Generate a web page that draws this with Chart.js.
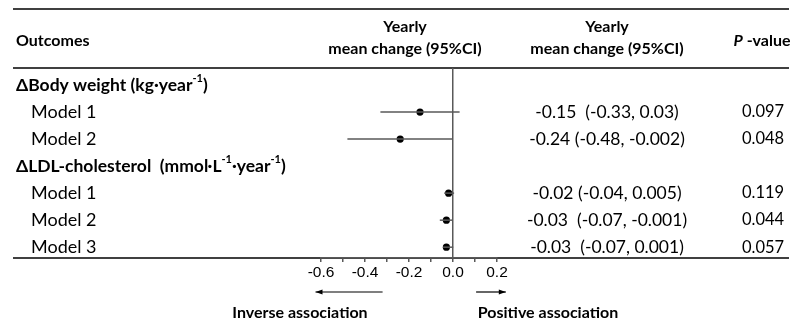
<!DOCTYPE html>
<html><head><meta charset="utf-8">
<script src="https://cdn.jsdelivr.net/npm/chart.js@4/dist/chart.umd.min.js"></script>
<style>html,body{margin:0;padding:0;background:#fff;}canvas{display:block;}</style>
</head><body>
<canvas id="c" width="790" height="324"></canvas>
<script>
// ---- data ----
const rowLabels = ['ΔBody weight (kg·year^-1^)', 'Model 1', 'Model 2', 'ΔLDL-cholesterol  (mmol·L^-1^·year^-1^)', 'Model 1', 'Model 2', 'Model 3'];
const rowIsHeader = [true, false, false, true, false, false, false];
const estimates = [null, -0.15, -0.24, null, -0.02, -0.03, -0.03];
const ciLow = [null, -0.33, -0.48, null, -0.04, -0.06, -0.045];
const ciHigh = [null, 0.03, -0.002, null, 0.005, -0.001, 0.001];
const ciText = ['', '-0.15  (-0.33, 0.03)', '-0.24 (-0.48, -0.002)', '', '-0.02 (-0.04, 0.005)', '-0.03  (-0.07, -0.001)', '-0.03  (-0.07, 0.001)'];
const pValues = ['', '0.097', '0.048', '', '0.119', '0.044', '0.057'];
const tickLabels = ['-0.6', '-0.4', '-0.2', '0.0', '0.2'];
const columnHeaders = ['Outcomes', 'Yearly', 'mean change (95%CI)', 'P', ' -value'];
const directionLabels = ['Inverse association', 'Positive association'];

const FONT = 'Lato, "Open Sans", sans-serif';
const LINE = '#595959';
const SZ_HEAD = 16, SZ_ROWB = 17.5, SZ_ROW = 18, SZ_VAL = 17.5, SZ_P = 16.5, SZ_DIR = 16;

function drawRich(ctx, label, x, y, size, weight, align) {
  const parts = label.split('^');
  const segs = parts.map((t, i) => ({ t, sup: i % 2 === 1 }));
  let total = 0;
  segs.forEach(s => {
    ctx.font = `${weight} ${s.sup ? Math.round(size * 0.6) : size}px ${FONT}`;
    s.w = ctx.measureText(s.t).width;
    total += s.w;
  });
  let cx = align === 'center' ? x - total / 2 : x;
  ctx.textAlign = 'left';
  ctx.textBaseline = 'middle';
  segs.forEach(s => {
    ctx.font = `${weight} ${s.sup ? Math.round(size * 0.6) : size}px ${FONT}`;
    ctx.fillText(s.t, cx, s.sup ? y - size * 0.4 : y);
    cx += s.w;
  });
}

const tablePlugin = {
  id: 'table',
  beforeDraw(chart) {
    const ctx = chart.ctx;
    ctx.save();
    ctx.fillStyle = '#fff';
    ctx.fillRect(0, 0, chart.width, chart.height);
    ctx.strokeStyle = '#000';
    ctx.lineWidth = 1.5;
    const ca = chart.chartArea;
    [9, ca.top, ca.bottom].forEach(y => {
      ctx.beginPath(); ctx.moveTo(13, y); ctx.lineTo(789, y); ctx.stroke();
    });
    ctx.restore();
  },
  afterDraw(chart) {
    const ctx = chart.ctx;
    const ys = chart.scales.y, xs = chart.scales.x;
    ctx.save();
    ctx.fillStyle = '#000';
    // header
    drawRich(ctx, columnHeaders[0], 16, 41, SZ_HEAD, 'bold', 'left');
    drawRich(ctx, columnHeaders[1], 405, 27, SZ_HEAD, 'bold', 'center');
    drawRich(ctx, columnHeaders[2], 405, 49, SZ_HEAD, 'bold', 'center');
    drawRich(ctx, columnHeaders[1], 607, 27, SZ_HEAD, 'bold', 'center');
    drawRich(ctx, columnHeaders[2], 607, 49, SZ_HEAD, 'bold', 'center');
    ctx.font = `italic bold ${SZ_HEAD}px ${FONT}`;
    const wP = ctx.measureText(columnHeaders[3]).width;
    ctx.font = `bold ${SZ_HEAD}px ${FONT}`;
    const wV = ctx.measureText(columnHeaders[4]).width;
    let px = 762 - (wP + wV) / 2;
    ctx.textBaseline = 'middle'; ctx.textAlign = 'left';
    ctx.font = `italic bold ${SZ_HEAD}px ${FONT}`;
    ctx.fillText(columnHeaders[3], px, 41);
    ctx.font = `bold ${SZ_HEAD}px ${FONT}`;
    ctx.fillText(columnHeaders[4], px + wP, 41);
    // rows
    rowLabels.forEach((lab, i) => {
      const y = ys.getPixelForValue(i);
      if (rowIsHeader[i]) drawRich(ctx, lab, 16, y, SZ_ROWB, 'bold', 'left');
      else drawRich(ctx, lab, 31, y, SZ_ROW, 'normal', 'left');
      if (ciText[i]) drawRich(ctx, ciText[i], 607, y, SZ_VAL, 'normal', 'center');
      if (pValues[i]) drawRich(ctx, pValues[i], 763, y, SZ_P, 'normal', 'center');
    });
    // direction arrows
    const ay = 292;
    ctx.strokeStyle = '#000'; ctx.lineWidth = 1.2;
    const arrow = (x1, x2) => {
      ctx.beginPath(); ctx.moveTo(x1, ay); ctx.lineTo(x2, ay); ctx.stroke();
      const d = x2 > x1 ? 1 : -1;
      ctx.beginPath(); ctx.moveTo(x2, ay); ctx.lineTo(x2 - d * 7, ay - 2.5); ctx.lineTo(x2 - d * 7, ay + 2.5); ctx.closePath(); ctx.fill();
    };
    arrow(xs.getPixelForValue(-0.32), xs.getPixelForValue(-0.625));
    arrow(xs.getPixelForValue(0.105), xs.getPixelForValue(0.24));
    drawRich(ctx, directionLabels[0], 300, 313, SZ_DIR, 'bold', 'center');
    drawRich(ctx, directionLabels[1], 548, 313, SZ_DIR, 'bold', 'center');
    ctx.restore();
  }
};

const datasets = [];
estimates.forEach((e, i) => {
  if (e === null) return;
  datasets.push({
    data: [{ x: ciLow[i], y: i }, { x: ciHigh[i], y: i }],
    showLine: true, borderColor: LINE, borderWidth: 1.5, pointRadius: 0, pointHoverRadius: 0
  });
});
datasets.push({
  data: estimates.map((e, i) => e === null ? null : { x: e, y: i }).filter(d => d),
  pointRadius: 3.6, pointBackgroundColor: '#000', pointBorderColor: '#000', pointBorderWidth: 0
});

new Chart(document.getElementById('c'), {
  type: 'scatter',
  data: { datasets },
  options: {
    responsive: false, animation: false, devicePixelRatio: 1,
    layout: { padding: { left: 321, right: 293, top: 68, bottom: 26 } },
    plugins: { legend: { display: false }, tooltip: { enabled: false } },
    scales: {
      x: {
        type: 'linear', min: -0.6, max: 0.2, position: 'bottom',
        afterFit: s => { s.height = 40; },
        ticks: {
          stepSize: 0.1, autoSkip: false, maxRotation: 0, padding: 1, color: '#000',
          font: { family: '"Liberation Sans", Arial, sans-serif', size: 15.5 },
          callback: v => {
            const k = Math.round(v * 10);
            if (k % 2 !== 0) return '';
            return tickLabels[(k + 6) / 2];
          }
        },
        grid: {
          drawOnChartArea: true, tickLength: 4, tickColor: LINE, lineWidth: 1.5,
          color: c => (c.tick && Math.abs(c.tick.value) < 1e-9) ? LINE : 'rgba(0,0,0,0)'
        },
        border: { display: true, color: LINE, width: 1.5 }
      },
      y: { type: 'linear', min: -0.63, max: 6.4, reverse: true, display: false }
    }
  },
  plugins: [tablePlugin]
});
</script>
</body></html>
